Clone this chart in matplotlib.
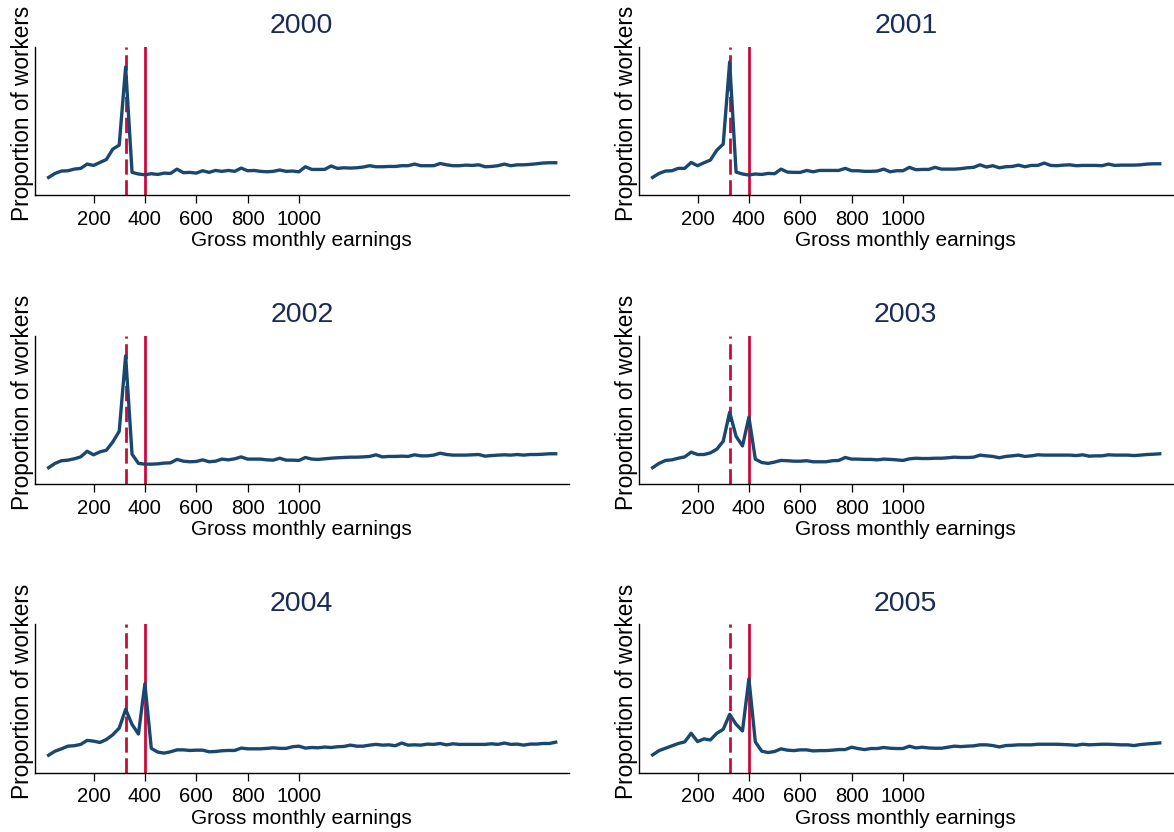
import matplotlib
matplotlib.use("Agg")
import matplotlib.pyplot as plt
import numpy as np

plt.rcParams["font.family"] = ["Liberation Sans", "DejaVu Sans"]

# earnings bins (upper bound, 25 EUR steps)
earnings = np.arange(25, 2001, 25)

years = ["2000", "2001", "2002", "2003", "2004", "2005"]

# share of workers per bin (percent)
share_2000 = [1.19, 1.46, 1.62, 1.64, 1.75, 1.80, 2.09, 2.00, 2.20, 2.40,
              3.10, 3.37, 8.65, 1.53, 1.42, 1.37, 1.44, 1.39, 1.48, 1.46,
              1.75, 1.51, 1.53, 1.48, 1.64, 1.53, 1.66, 1.60, 1.66, 1.60,
              1.82, 1.64, 1.66, 1.60, 1.57, 1.60, 1.69, 1.60, 1.62, 1.57,
              1.91, 1.73, 1.73, 1.73, 1.96, 1.80, 1.84, 1.82, 1.84, 1.89,
              1.98, 1.91, 1.91, 1.93, 1.93, 1.98, 1.98, 2.09, 1.98, 1.98,
              1.98, 2.13, 2.04, 1.98, 1.98, 2.02, 2.00, 2.04, 1.91, 1.93,
              1.98, 2.09, 1.98, 2.04, 2.04, 2.07, 2.11, 2.16, 2.18, 2.18]
share_2001 = [1.19, 1.46, 1.62, 1.64, 1.80, 1.80, 2.20, 1.98, 2.18, 2.36,
              3.03, 3.44, 8.99, 1.55, 1.42, 1.35, 1.42, 1.39, 1.46, 1.44,
              1.75, 1.55, 1.53, 1.53, 1.66, 1.57, 1.66, 1.66, 1.66, 1.66,
              1.80, 1.64, 1.64, 1.60, 1.60, 1.62, 1.75, 1.57, 1.64, 1.64,
              1.87, 1.71, 1.73, 1.73, 1.87, 1.75, 1.75, 1.75, 1.78, 1.84,
              1.87, 2.04, 1.89, 1.98, 1.84, 1.91, 1.93, 2.02, 1.91, 2.00,
              2.00, 2.16, 2.00, 1.98, 2.02, 2.04, 1.98, 2.00, 2.00, 2.00,
              1.98, 2.09, 2.00, 2.02, 2.02, 2.02, 2.04, 2.09, 2.11, 2.11]
share_2002 = [1.10, 1.39, 1.57, 1.61, 1.70, 1.83, 2.21, 1.97, 2.17, 2.28,
              2.84, 3.56, 8.66, 2.01, 1.39, 1.34, 1.34, 1.36, 1.41, 1.43,
              1.66, 1.54, 1.50, 1.52, 1.63, 1.50, 1.54, 1.68, 1.63, 1.70,
              1.83, 1.68, 1.68, 1.68, 1.63, 1.61, 1.74, 1.61, 1.61, 1.59,
              1.79, 1.68, 1.66, 1.70, 1.74, 1.77, 1.79, 1.81, 1.81, 1.83,
              1.86, 1.97, 1.83, 1.86, 1.86, 1.88, 1.86, 1.97, 1.90, 1.90,
              1.95, 2.08, 1.99, 1.95, 1.95, 1.95, 1.97, 1.99, 1.88, 1.92,
              1.95, 1.97, 1.95, 1.99, 1.95, 1.99, 1.99, 2.01, 2.04, 2.04]
share_2003 = [1.10, 1.39, 1.59, 1.63, 1.74, 1.83, 2.15, 1.99, 1.99, 2.10,
              2.35, 2.89, 4.85, 3.22, 2.57, 4.52, 1.68, 1.45, 1.39, 1.48,
              1.59, 1.57, 1.54, 1.54, 1.57, 1.50, 1.50, 1.50, 1.57, 1.59,
              1.79, 1.68, 1.68, 1.66, 1.66, 1.63, 1.68, 1.66, 1.63, 1.59,
              1.70, 1.74, 1.72, 1.72, 1.74, 1.74, 1.77, 1.81, 1.79, 1.79,
              1.81, 1.95, 1.90, 1.86, 1.77, 1.86, 1.90, 1.95, 1.86, 1.90,
              1.97, 1.95, 1.95, 1.95, 1.95, 1.95, 1.92, 1.97, 1.88, 1.90,
              1.90, 1.97, 1.95, 1.95, 1.95, 1.92, 1.95, 1.99, 2.01, 2.04]
share_2004 = [1.17, 1.44, 1.60, 1.78, 1.81, 1.90, 2.17, 2.12, 2.03, 2.23,
              2.55, 3.00, 4.27, 3.25, 2.60, 6.00, 1.63, 1.38, 1.31, 1.40,
              1.53, 1.53, 1.49, 1.51, 1.51, 1.40, 1.42, 1.47, 1.49, 1.49,
              1.65, 1.60, 1.60, 1.60, 1.63, 1.67, 1.63, 1.63, 1.74, 1.78,
              1.65, 1.69, 1.67, 1.72, 1.69, 1.74, 1.76, 1.85, 1.78, 1.78,
              1.85, 1.90, 1.85, 1.87, 1.81, 1.99, 1.85, 1.87, 1.85, 1.92,
              1.90, 1.96, 1.87, 1.94, 1.90, 1.90, 1.90, 1.90, 1.90, 1.94,
              1.90, 1.99, 1.90, 1.92, 1.85, 1.92, 1.92, 1.96, 1.96, 2.05]
share_2005 = [1.19, 1.48, 1.64, 1.80, 1.96, 2.07, 2.65, 2.09, 2.27, 2.20,
              2.65, 2.92, 3.93, 3.26, 2.81, 6.34, 2.07, 1.44, 1.35, 1.42,
              1.60, 1.51, 1.48, 1.53, 1.53, 1.46, 1.48, 1.48, 1.51, 1.55,
              1.55, 1.71, 1.62, 1.55, 1.62, 1.62, 1.69, 1.64, 1.62, 1.62,
              1.78, 1.66, 1.71, 1.66, 1.64, 1.64, 1.71, 1.78, 1.75, 1.78,
              1.80, 1.87, 1.87, 1.82, 1.73, 1.82, 1.84, 1.87, 1.87, 1.87,
              1.91, 1.91, 1.91, 1.91, 1.89, 1.87, 1.84, 1.91, 1.87, 1.89,
              1.91, 1.91, 1.89, 1.87, 1.87, 1.82, 1.89, 1.93, 1.96, 2.00]

shares = [share_2000, share_2001, share_2002, share_2003, share_2004, share_2005]

old_threshold = 325   # marginal employment limit until 2002
new_threshold = 400   # limit from April 2003
xticks = [200, 400, 600, 800, 1000]

line_color = "#1a476f"
red = "#cc0a3c"
title_color = "#1c2b55"

fig = plt.figure(figsize=(11.74, 8.32), dpi=100)

col_left = [0.0298, 0.5443]
col_width = 0.4545
row_bottom = [0.7656, 0.4183, 0.0715]
row_height = 0.1779

for i, (year, share) in enumerate(zip(years, shares)):
    row, col = divmod(i, 2)
    ax = fig.add_axes([col_left[col], row_bottom[row], col_width, row_height])

    ax.axvline(old_threshold, color=red, lw=2.0, linestyle=(0, (5.5, 2.0)), zorder=1)
    ax.axvline(new_threshold, color=red, lw=2.0, zorder=1)
    ax.plot(earnings, share, color=line_color, lw=2.4, zorder=3)

    ax.set_xlim(-28, 2050)
    ax.set_ylim(0, 10)
    ax.set_xticks(xticks)
    ax.set_xticklabels([str(t) for t in xticks])
    ax.set_yticks([])
    ax.tick_params(axis="x", length=5.5, width=0.9, pad=5.0, labelsize=14.6)

    for side in ["top", "right"]:
        ax.spines[side].set_visible(False)
    for side in ["left", "bottom"]:
        ax.spines[side].set_linewidth(1.0)

    ax.set_title(year, fontsize=20.5, color=title_color, pad=9.9)
    ax.set_xlabel("Gross monthly earnings", fontsize=15, labelpad=2.0)
    ax.set_ylabel("Proportion of workers", fontsize=16.3)
    ax.yaxis.set_label_coords(-0.0025, 0.55)

fig.savefig("out.png", dpi=100, facecolor="white")
